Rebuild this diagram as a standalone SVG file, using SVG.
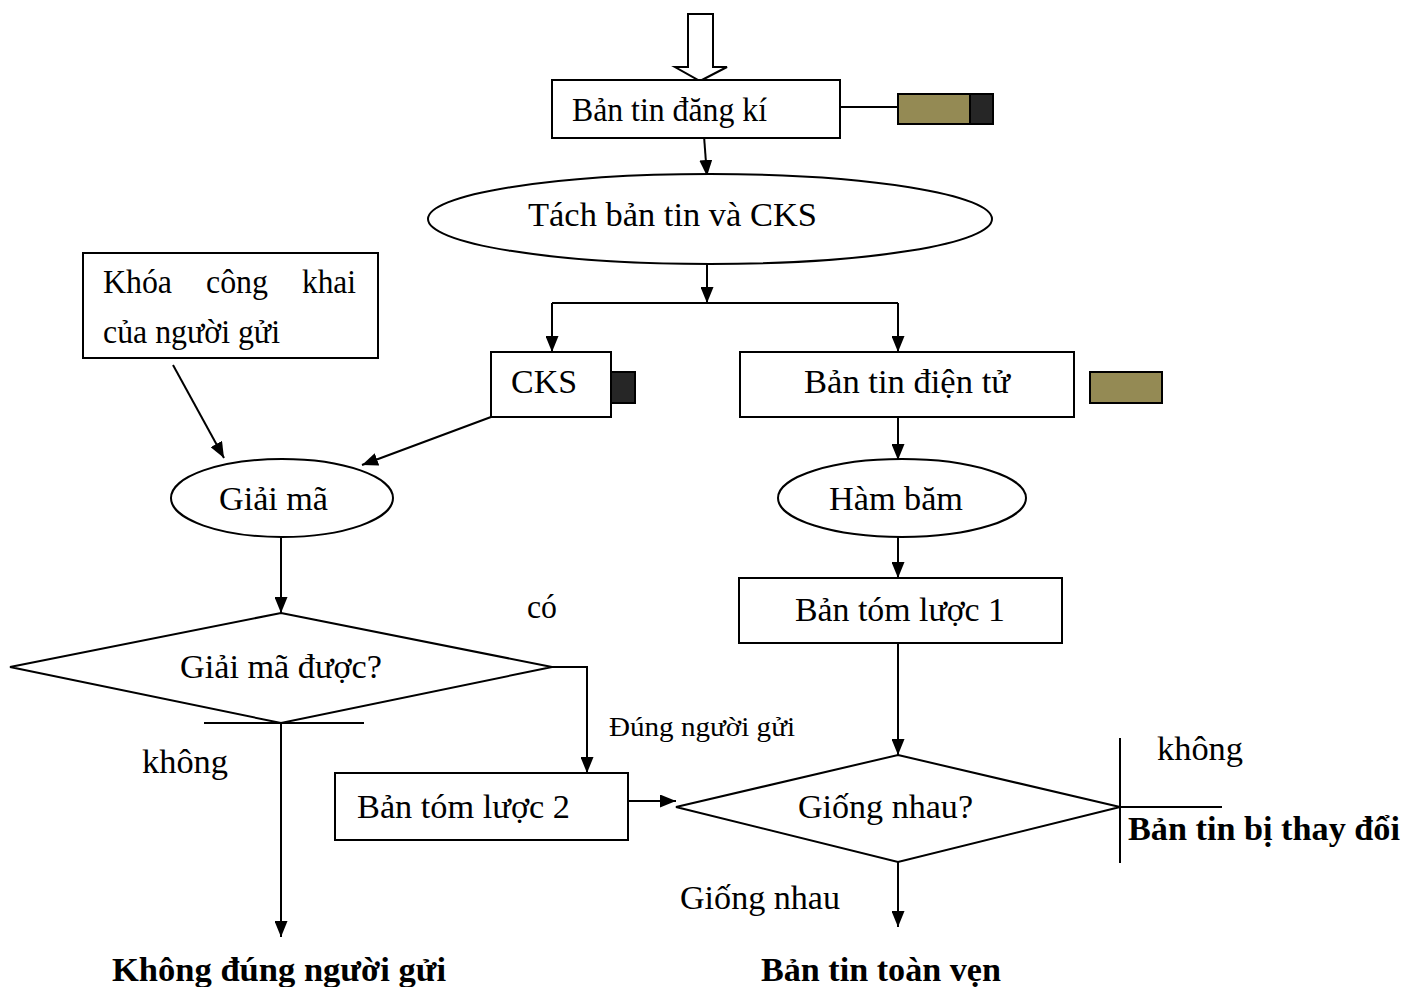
<svg xmlns="http://www.w3.org/2000/svg" width="1420" height="987" viewBox="0 0 1420 987">
  <style>
    .box { fill: #ffffff; stroke: #000000; stroke-width: 2; }
    .ln { fill: none; stroke: #000000; stroke-width: 2; }
    .arr { fill: none; stroke: #000000; stroke-width: 2; marker-end: url(#head); }
    .t { font-family: "Liberation Serif", "Times New Roman", serif; font-size: 34px; fill: #000000; }
    .s { font-family: "Liberation Serif", "Times New Roman", serif; font-size: 27px; fill: #000000; }
    .b { font-family: "Liberation Serif", "Times New Roman", serif; font-size: 34px; font-weight: bold; fill: #000000; }
    .olive { fill: #948a54; stroke: #000000; stroke-width: 2; }
    .dark { fill: #262626; stroke: #000000; stroke-width: 2; }
  </style>
  <defs>
    <marker id="head" markerUnits="userSpaceOnUse" markerWidth="16" markerHeight="13" refX="16" refY="6.5" orient="auto">
      <path d="M0,0 L16,6.5 L0,13 z" fill="#000000"/>
    </marker>
  </defs>

  <rect width="1420" height="987" fill="#ffffff"/>

  <!-- connectors -->
  <g id="connectors">
    <polygon points="688,14 713,14 713,67 727,67 700,81 675,67 688,67" fill="#ffffff" stroke="#000000" stroke-width="2"/>
    <path class="ln" d="M840,107 H898"/>
    <path class="arr" d="M704,136 L707,176"/>
    <path class="arr" d="M707,263 V303"/>
    <path class="ln" d="M552,303 H898"/>
    <path class="arr" d="M552,303 V352"/>
    <path class="arr" d="M898,303 V352"/>
    <path class="arr" d="M173,365 L224,458"/>
    <path class="arr" d="M491,417 L362,465"/>
    <path class="arr" d="M281,537 V613"/>
    <path class="arr" d="M898,417 V460"/>
    <path class="arr" d="M898,537 V578"/>
    <path class="ln" d="M204,723 H364"/>
    <path class="arr" d="M281,723 V937"/>
    <path class="arr" d="M552,667 H587 V773"/>
    <path class="arr" d="M628,801 H676"/>
    <path class="arr" d="M898,643 V755"/>
    <path class="ln" d="M1120,738 V863"/>
    <path class="ln" d="M1120,807 H1222"/>
    <path class="arr" d="M898,862 V927"/>
  </g>

  <!-- registered message -->
  <g id="ban-tin-dang-ki">
    <rect class="box" x="552" y="80" width="288" height="58"/>
    <text class="t" x="572" y="121" textLength="195" lengthAdjust="spacingAndGlyphs">Bản tin đăng kí</text>
  </g>
  <g id="ban-tin-dang-ki-tag">
    <rect class="olive" x="898" y="94" width="72" height="30"/>
    <rect class="dark" x="970" y="94" width="23" height="30"/>
  </g>

  <g id="tach">
    <ellipse class="box" cx="710" cy="219" rx="282" ry="45"/>
    <text class="t" x="528" y="226" textLength="289" lengthAdjust="spacingAndGlyphs">Tách bản tin và CKS</text>
  </g>

  <g id="khoa-cong-khai">
    <rect class="box" x="83" y="253" width="295" height="105"/>
    <text class="t" x="103" y="293" textLength="69" lengthAdjust="spacingAndGlyphs">Khóa</text>
    <text class="t" x="206" y="293" textLength="62" lengthAdjust="spacingAndGlyphs">công</text>
    <text class="t" x="302" y="293" textLength="54" lengthAdjust="spacingAndGlyphs">khai</text>
    <text class="t" x="103" y="343" textLength="177" lengthAdjust="spacingAndGlyphs">của người gửi</text>
  </g>

  <g id="cks">
    <rect class="box" x="491" y="352" width="120" height="65"/>
    <text class="t" x="511" y="393" textLength="66" lengthAdjust="spacingAndGlyphs">CKS</text>
  </g>
  <g id="cks-tag">
    <rect class="dark" x="611" y="372" width="24" height="31"/>
  </g>

  <g id="ban-tin-dien-tu">
    <rect class="box" x="740" y="352" width="334" height="65"/>
    <text class="t" x="804" y="393" textLength="206" lengthAdjust="spacingAndGlyphs">Bản tin điện tử</text>
  </g>
  <g id="ban-tin-dien-tu-tag">
    <rect class="olive" x="1090" y="372" width="72" height="31"/>
  </g>

  <g id="giai-ma">
    <ellipse class="box" cx="282" cy="498" rx="111" ry="39"/>
    <text class="t" x="219" y="510" textLength="109" lengthAdjust="spacingAndGlyphs">Giải mã</text>
  </g>

  <g id="ham-bam">
    <ellipse class="box" cx="902" cy="498" rx="124" ry="39"/>
    <text class="t" x="829" y="510" textLength="134" lengthAdjust="spacingAndGlyphs">Hàm băm</text>
  </g>

  <g id="ban-tom-luoc-1">
    <rect class="box" x="739" y="578" width="323" height="65"/>
    <text class="t" x="795" y="621" textLength="210" lengthAdjust="spacingAndGlyphs">Bản tóm lược 1</text>
  </g>

  <g id="giai-ma-duoc">
    <polygon class="box" points="281,613 552,667 281,723 10,667"/>
    <text class="t" x="180" y="678" textLength="202" lengthAdjust="spacingAndGlyphs">Giải mã được?</text>
  </g>

  <g id="ban-tom-luoc-2">
    <rect class="box" x="335" y="773" width="293" height="67"/>
    <text class="t" x="357" y="818" textLength="213" lengthAdjust="spacingAndGlyphs">Bản tóm lược 2</text>
  </g>

  <g id="giong-nhau">
    <polygon class="box" points="898,755 1120,807 898,862 676,807"/>
    <text class="t" x="798" y="818" textLength="175" lengthAdjust="spacingAndGlyphs">Giống nhau?</text>
  </g>

  <!-- branch labels and outcomes -->
  <g id="labels">
    <text class="t" x="527" y="618" textLength="30" lengthAdjust="spacingAndGlyphs">có</text>
    <text class="s" x="609" y="736" textLength="186" lengthAdjust="spacingAndGlyphs">Đúng người gửi</text>
    <text class="t" x="142" y="773" textLength="86" lengthAdjust="spacingAndGlyphs">không</text>
    <text class="t" x="1157" y="760" textLength="86" lengthAdjust="spacingAndGlyphs">không</text>
    <text class="t" x="680" y="909" textLength="160" lengthAdjust="spacingAndGlyphs">Giống nhau</text>
  </g>
  <g id="ket-qua">
    <text class="b" x="1128" y="840" textLength="272" lengthAdjust="spacingAndGlyphs">Bản tin bị thay đổi</text>
    <text class="b" x="112" y="981" textLength="334" lengthAdjust="spacingAndGlyphs">Không đúng người gửi</text>
    <text class="b" x="761" y="981" textLength="240" lengthAdjust="spacingAndGlyphs">Bản tin toàn vẹn</text>
  </g>
</svg>
